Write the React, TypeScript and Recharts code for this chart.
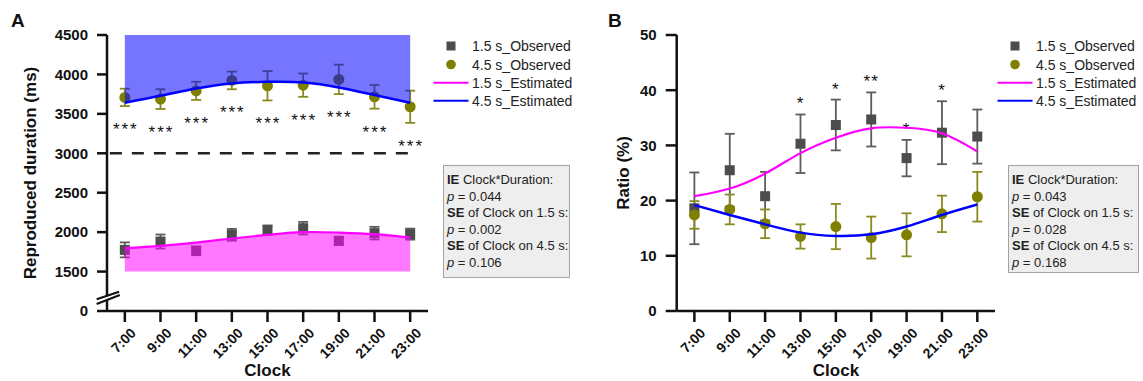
import React from 'react';
import {
  ComposedChart,
  XAxis,
  YAxis,
  Scatter,
  Line,
  Area,
  ErrorBar,
  ReferenceLine,
} from 'recharts';

// ---------- data ----------
const clockLabels = ['7:00', '9:00', '11:00', '13:00', '15:00', '17:00', '19:00', '21:00', '23:00'];

// Panel A: reproduced duration (ms)
const obs15A = [1775, 1881, 1763, 1966, 2025, 2050, 1890, 1987, 1975];
const err15A = [95, 89, 55, 75, 60, 80, 50, 80, 70];
const obs45A = [3709, 3687, 3792, 3924, 3856, 3864, 3937, 3716, 3590];
const err45A = [110, 125, 115, 112, 186, 148, 187, 150, 204];
const est15A = [1797, 1826, 1868, 1919, 1966, 2000, 1995, 1975, 1932];
const est45A = [3642, 3729, 3822, 3886, 3906, 3898, 3835, 3738, 3642];
const starsA = ['***', '***', '***', '***', '***', '***', '***', '***', '***'];
const targetA = 3000;
const bandTopA = 4500;
const bandBottomA = 1500;
const yTickValuesA = [1000, 1500, 2000, 2500, 3000, 3500, 4000, 4500];
const yTickLabelsA = ['0', '1500', '2000', '2500', '3000', '3500', '4000', '4500'];

// Panel B: ratio (%)
const obs15B = [18.6, 25.5, 20.8, 30.3, 33.7, 34.7, 27.7, 32.3, 31.6];
const err15B = [6.5, 6.6, 4.4, 5.3, 4.6, 4.9, 3.3, 5.7, 4.9];
const obs45B = [17.4, 18.4, 15.8, 13.5, 15.3, 13.3, 13.8, 17.6, 20.7];
const err45B = [2.5, 2.7, 2.6, 2.2, 4.1, 3.8, 3.9, 3.3, 4.5];
const est15B = [20.8, 22.2, 24.9, 28.6, 31.4, 33.1, 33.2, 32.2, 28.9];
const est45B = [19.2, 17.4, 15.7, 14.2, 13.6, 13.9, 15.3, 17.4, 19.3];
const starsB = ['', '', '', '*', '*', '**', '*', '*', ''];
const yTickValuesB = [0, 10, 20, 30, 40, 50];

const legendLabels = ['1.5 s_Observed', '4.5 s_Observed', '1.5 s_Estimated', '4.5 s_Estimated'];
const statsA = ['0.044', '0.002', '0.106'];
const statsB = ['0.043', '0.028', '0.168'];

// ---------- styles ----------
const FONT = '"Liberation Sans", Arial, Helvetica, sans-serif';
const C_SQ = '#4d4d4d';
const C_SQ_ERR = '#5c5c5c';
const C_CIR = '#808000';
const C_CIR_ERR = '#8a8a22';
const C_MAG = '#ff00ff';
const C_BLUE = '#0000ff';
const AXIS = '#111';

const rowsA = clockLabels.map((c, i) => ({
  x: i,
  obs15: obs15A[i],
  err15: err15A[i],
  obs45: obs45A[i],
  err45: err45A[i],
  est15: est15A[i],
  est45: est45A[i],
  star: starsA[i],
}));
const rowsB = clockLabels.map((c, i) => ({
  x: i,
  obs15: obs15B[i],
  err15: err15B[i],
  obs45: obs45B[i],
  err45: err45B[i],
  est15: est15B[i],
  est45: est45B[i],
  star: starsB[i],
}));

const squareShape = (p: any) =>
  p.cx == null ? <g /> : <rect x={p.cx - 5} y={p.cy - 5} width={10} height={10} fill={C_SQ} />;
const circleShape = (p: any) =>
  p.cx == null ? <g /> : <circle cx={p.cx} cy={p.cy} r={5.5} fill={C_CIR} />;

const starBelow = (p: any) =>
  p.cx == null || !p.payload.star ? (
    <g />
  ) : (
    <text x={p.cx + 1} y={p.cy + 29} textAnchor="middle" fontSize={17} letterSpacing={2} fontFamily={FONT} fill="#111">
      {p.payload.star}
    </text>
  );
const starAbove = (p: any) =>
  p.cx == null || !p.payload.star ? (
    <g />
  ) : (
    <text x={p.cx} y={p.cy - 5} textAnchor="middle" fontSize={17} letterSpacing={1} fontFamily={FONT} fill="#111">
      {p.payload.star}
    </text>
  );

const ClockTick = (props: any) => {
  const { x, y, payload } = props;
  const ex = x + 12;
  const ey = y + 10;
  return (
    <text
      x={ex}
      y={ey}
      textAnchor="end"
      transform={`rotate(-45 ${ex} ${ey})`}
      fontSize={14}
      fontWeight="bold"
      fontFamily={FONT}
      fill={AXIS}
    >
      {clockLabels[payload.value]}
    </text>
  );
};

const yTickStyle = { fontSize: 15, fontWeight: 'bold', fill: AXIS, fontFamily: FONT };
const xTicks = clockLabels.map((c, i) => i);

const W = 1143;
const H = 381;

function Legend({ x0 }: { x0: number }) {
  // x0 = center of marker / legend line
  const rows = [46, 64.5, 82.7, 100.7];
  const tx = x0 + 21;
  return (
    <g fontFamily={FONT} fontSize={14} fill="#222">
      <rect x={x0 - 4.5} y={rows[0] - 4.5} width={9} height={9} fill={C_SQ} />
      <circle cx={x0} cy={rows[1]} r={4.8} fill={C_CIR} />
      <line x1={x0 - 17.5} x2={x0 + 17.5} y1={rows[2]} y2={rows[2]} stroke={C_MAG} strokeWidth={2} />
      <line x1={x0 - 17.5} x2={x0 + 17.5} y1={rows[3]} y2={rows[3]} stroke={C_BLUE} strokeWidth={2} />
      {legendLabels.map((l, i) => (
        <text key={l} x={tx} y={rows[i] + 5}>
          {l}
        </text>
      ))}
    </g>
  );
}

function StatBox({ left, top, width, height, vals }: any) {
  const line = { height: 16.5, whiteSpace: 'nowrap' as const };
  return (
    <div
      style={{
        position: 'absolute',
        left,
        top,
        width,
        height,
        boxSizing: 'border-box',
        background: '#eeeeee',
        border: '1px solid #a3a3a3',
        padding: '6px 0 0 3px',
        fontFamily: FONT,
        fontSize: 13,
        lineHeight: '16.5px',
        color: '#222',
      }}
    >
      <div style={line}>
        <b>IE</b> Clock*Duration:
      </div>
      <div style={line}>
        <i>p</i> = {vals[0]}
      </div>
      <div style={line}>
        <b>SE</b> of Clock on 1.5 s:
      </div>
      <div style={line}>
        <i>p</i> = {vals[1]}
      </div>
      <div style={line}>
        <b>SE</b> of Clock on 4.5 s:
      </div>
      <div style={line}>
        <i>p</i> = {vals[2]}
      </div>
    </div>
  );
}

export default function App() {
  return (
    <div style={{ position: 'absolute', left: 0, top: 0, width: W, height: H, background: '#fff', overflow: 'hidden' }}>
      {/* Panel A */}
      <div style={{ position: 'absolute', left: 0, top: 0 }}>
        <ComposedChart width={440} height={381} data={rowsA} margin={{ top: 35, right: 12, bottom: 10, left: 47 }}>
          <XAxis
            dataKey="x"
            type="number"
            domain={[-0.5, 8.5]}
            ticks={xTicks}
            interval={0}
            tick={<ClockTick />}
            tickSize={11}
            axisLine={{ stroke: AXIS, strokeWidth: 2.5 }}
            tickLine={{ stroke: AXIS, strokeWidth: 2.5 }}
            height={60}
          />
          <YAxis
            type="number"
            domain={[1000, 4500]}
            ticks={yTickValuesA}
            interval={0}
            tickFormatter={(v: number) => yTickLabelsA[yTickValuesA.indexOf(v)]}
            tick={yTickStyle}
            tickSize={10}
            tickMargin={9}
            axisLine={false}
            tickLine={{ stroke: AXIS, strokeWidth: 2.5 }}
            width={60}
          />
          <Scatter dataKey="obs15" shape={squareShape} isAnimationActive={false}>
            <ErrorBar dataKey="err15" direction="y" width={5} stroke={C_SQ_ERR} strokeWidth={1.8} isAnimationActive={false} />
          </Scatter>
          <Scatter dataKey="obs45" shape={circleShape} isAnimationActive={false}>
            <ErrorBar dataKey="err45" direction="y" width={5} stroke={C_CIR_ERR} strokeWidth={1.8} isAnimationActive={false} />
          </Scatter>
          <Area
            dataKey={(d: any) => [d.est45, bandTopA]}
            type="natural"
            stroke="none"
            fill={C_BLUE}
            fillOpacity={0.54}
            isAnimationActive={false}
            zIndex={650}
          />
          <Area
            dataKey={(d: any) => [bandBottomA, d.est15]}
            type="natural"
            stroke="none"
            fill={C_MAG}
            fillOpacity={0.53}
            isAnimationActive={false}
            zIndex={650}
          />
          <Line dataKey="est15" type="natural" stroke={C_MAG} strokeWidth={2.2} dot={false} isAnimationActive={false} zIndex={700} />
          <Line dataKey="est45" type="natural" stroke={C_BLUE} strokeWidth={2.5} dot={false} isAnimationActive={false} zIndex={700} />
          <Scatter
            dataKey={(d: any) => d.obs45 - d.err45}
            shape={starBelow}
            isAnimationActive={false}
          />
          <ReferenceLine
            segment={[{ x: -0.42, y: targetA }, { x: 8, y: targetA }]}
            stroke="#222"
            strokeWidth={2.5}
            strokeDasharray="12 10"
            ifOverflow="visible"
          />
          {/* y-axis with break */}
          <ReferenceLine segment={[{ x: -0.5, y: 1000 }, { x: -0.5, y: 1135 }]} stroke={AXIS} strokeWidth={2.5} ifOverflow="visible" />
          <ReferenceLine segment={[{ x: -0.5, y: 1195 }, { x: -0.5, y: 4500 }]} stroke={AXIS} strokeWidth={2.5} ifOverflow="visible" />
          <ReferenceLine segment={[{ x: -0.79, y: 1089 }, { x: -0.14, y: 1203 }]} stroke={AXIS} strokeWidth={2.2} ifOverflow="visible" />
          <ReferenceLine segment={[{ x: -0.79, y: 1148 }, { x: -0.16, y: 1245 }]} stroke={AXIS} strokeWidth={2.2} ifOverflow="visible" />
        </ComposedChart>
      </div>

      {/* Panel B */}
      <div style={{ position: 'absolute', left: 560, top: 0 }}>
        <ComposedChart width={445} height={381} data={rowsB} margin={{ top: 35, right: 10, bottom: 10, left: 56.7 }}>
          <XAxis
            dataKey="x"
            type="number"
            domain={[-0.5, 8.5]}
            ticks={xTicks}
            interval={0}
            tick={<ClockTick />}
            tickSize={11}
            axisLine={{ stroke: AXIS, strokeWidth: 2.5 }}
            tickLine={{ stroke: AXIS, strokeWidth: 2.5 }}
            height={60}
          />
          <YAxis
            type="number"
            domain={[0, 50]}
            ticks={yTickValuesB}
            interval={0}
            tick={yTickStyle}
            tickSize={11}
            tickMargin={9}
            axisLine={{ stroke: AXIS, strokeWidth: 2.5 }}
            tickLine={{ stroke: AXIS, strokeWidth: 2.5 }}
            width={60}
          />
          <Scatter dataKey="obs15" shape={squareShape} isAnimationActive={false}>
            <ErrorBar dataKey="err15" direction="y" width={5} stroke={C_SQ_ERR} strokeWidth={1.8} isAnimationActive={false} />
          </Scatter>
          <Scatter dataKey="obs45" shape={circleShape} isAnimationActive={false}>
            <ErrorBar dataKey="err45" direction="y" width={5} stroke={C_CIR_ERR} strokeWidth={1.8} isAnimationActive={false} />
          </Scatter>
          <Line dataKey="est15" type="natural" stroke={C_MAG} strokeWidth={2.2} dot={false} isAnimationActive={false} zIndex={700} />
          <Line dataKey="est45" type="natural" stroke={C_BLUE} strokeWidth={2.5} dot={false} isAnimationActive={false} zIndex={700} />
          <Scatter
            dataKey={(d: any) => d.obs15 + d.err15}
            shape={starAbove}
            isAnimationActive={false}
          />
        </ComposedChart>
      </div>

      {/* overlay: panel letters, axis titles, legends */}
      <svg width={W} height={H} style={{ position: 'absolute', left: 0, top: 0, pointerEvents: 'none' }}>
        <g fontFamily={FONT} fontWeight="bold" fill={AXIS}>
          <text x={11} y={27} fontSize={19}>A</text>
          <text x={608} y={27} fontSize={19}>B</text>
          <text x={30} y={173} fontSize={17} textAnchor="middle" dominantBaseline="central" transform="rotate(-90 30 173)">
            Reproduced duration (ms)
          </text>
          <text x={623} y={173} fontSize={17} textAnchor="middle" dominantBaseline="central" transform="rotate(-90 623 173)">
            Ratio (%)
          </text>
          <text x={267.5} y={376} fontSize={17} textAnchor="middle">Clock</text>
          <text x={836} y={376} fontSize={17} textAnchor="middle">Clock</text>
        </g>
        <Legend x0={451} />
        <Legend x0={1015} />
      </svg>

      <StatBox left={443} top={165} width={127} height={113} vals={statsA} />
      <StatBox left={1008} top={165} width={131} height={108} vals={statsB} />
    </div>
  );
}
